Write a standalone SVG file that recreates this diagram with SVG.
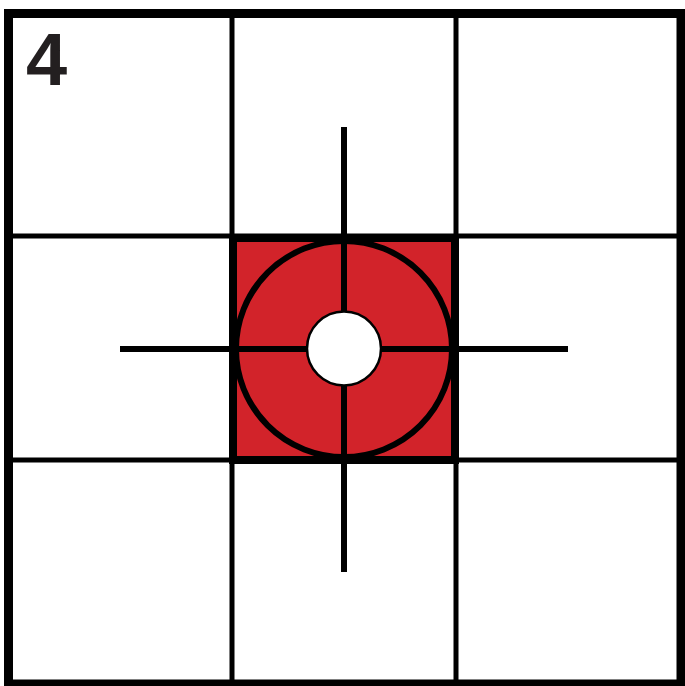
<svg xmlns="http://www.w3.org/2000/svg" width="685" height="686" viewBox="0 0 685 686">
<style>
.g{stroke:#000;stroke-width:5;fill:none}
.c{stroke:#000;stroke-width:6;fill:none}
</style>
<rect width="685" height="686" fill="#fff"/>
<g id="grid">
<line class="g" x1="232" y1="13" x2="232" y2="684"/>
<line class="g" x1="456" y1="13" x2="456" y2="684"/>
<line class="g" x1="8" y1="236" x2="681" y2="236"/>
<line class="g" x1="8" y1="460" x2="681" y2="460"/>
</g>
<g id="target">
<rect x="233" y="238" width="222" height="222" fill="#d2232a" stroke="#000" stroke-width="8"/>
<circle cx="344" cy="349" r="108" fill="#d2232a" stroke="#000" stroke-width="6"/>
</g>
<g id="cross">
<line class="c" x1="120" y1="349" x2="568" y2="349"/>
<line class="c" x1="344" y1="127" x2="344" y2="572"/>
</g>
<g id="center">
<circle cx="344" cy="348.5" r="37" fill="#fff" stroke="#000" stroke-width="2.5"/>
</g>
<rect x="8.5" y="13.5" width="672.5" height="670.5" fill="none" stroke="#000" stroke-width="9"/>
<text x="26" y="85" font-family="Liberation Sans, Arial, sans-serif" font-weight="bold" font-size="74" fill="#231f20">4</text>
</svg>
